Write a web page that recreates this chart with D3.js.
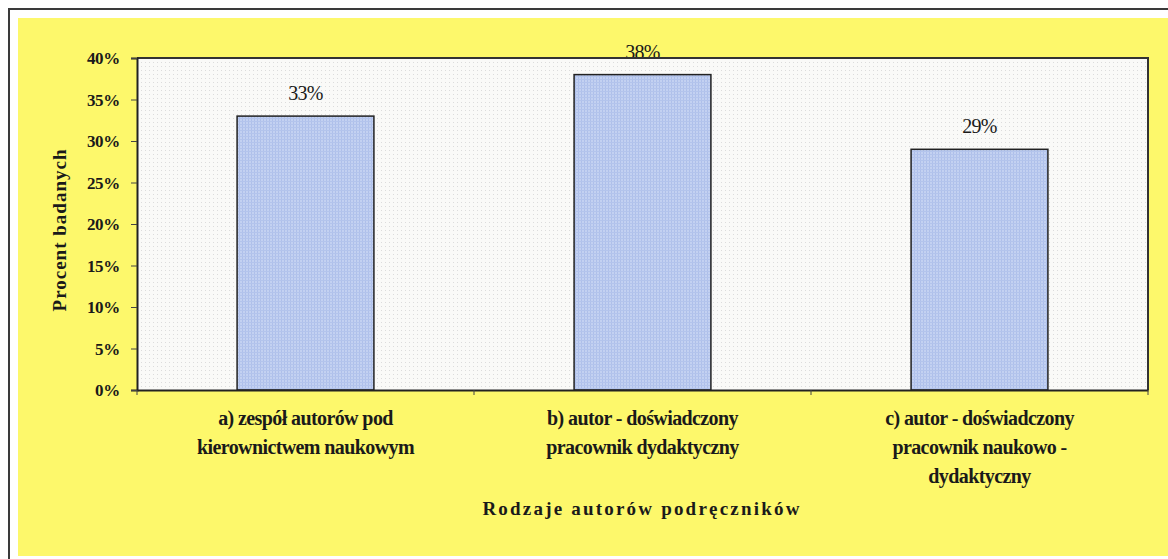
<!DOCTYPE html>
<html>
<head>
<meta charset="utf-8">
<script src="https://cdn.jsdelivr.net/npm/d3@7"></script>
<style>
  html, body { margin: 0; padding: 0; background: #fff; }
  svg { display: block; }
  text { font-family: "Liberation Serif", "Times New Roman", "DejaVu Serif", serif; fill: #1a1a1a; }
  .tick-label { font-weight: bold; font-size: 17px; letter-spacing: -0.3px; }
  .cat { font-weight: bold; font-size: 20px; letter-spacing: -0.6px; }
  .val { font-size: 20px; letter-spacing: -0.8px; }
  .title { font-weight: bold; font-size: 19px; }
</style>
</head>
<body>
<script>
var categories = [
    ['a) zespół autorów pod', 'kierownictwem naukowym'],
    ['b) autor - doświadczony', 'pracownik dydaktyczny'],
    ['c) autor - doświadczony', 'pracownik naukowo -', 'dydaktyczny']
];
var values = [33, 38, 29];
var yTicks = [0, 5, 10, 15, 20, 25, 30, 35, 40];
var yTitle = 'Procent badanych';
var xTitle = 'Rodzaje autorów podręczników';

var width = 1168,
    height = 559;

var margin = { left: 137, right: 20, top: 58, bottom: 169 };
var plotW = width - margin.left - margin.right,
    plotH = height - margin.top - margin.bottom;

var svg = d3.select('body').append('svg')
    .attr('width', width)
    .attr('height', height);

// dotted textures for plot area and bars
var defs = svg.append('defs');
var bgPat = defs.append('pattern')
    .attr('id', 'bgdots')
    .attr('width', 4).attr('height', 4)
    .attr('patternUnits', 'userSpaceOnUse');
bgPat.append('rect').attr('width', 4).attr('height', 4).attr('fill', '#fafaf8');
bgPat.append('rect').attr('width', 1).attr('height', 1).attr('fill', '#dcdcdc');

var barPat = defs.append('pattern')
    .attr('id', 'bardots')
    .attr('width', 3).attr('height', 3)
    .attr('patternUnits', 'userSpaceOnUse');
barPat.append('rect').attr('width', 3).attr('height', 3).attr('fill', '#c3d1f1');
barPat.append('rect').attr('width', 1).attr('height', 3).attr('fill', '#aebfea');
barPat.append('rect').attr('width', 3).attr('height', 1).attr('fill', '#b3c4ec');

// outer frame and yellow panel
svg.append('path')
    .attr('d', 'M9,' + height + 'V9H' + width)
    .attr('fill', 'none')
    .attr('stroke', '#3a3a3a')
    .attr('stroke-width', 2);

svg.append('rect')
    .attr('x', 18).attr('y', 18)
    .attr('width', width - 18).attr('height', 538)
    .attr('fill', '#fdf86b');

var g = svg.append('g')
    .attr('transform', 'translate(' + margin.left + ',' + margin.top + ')');

var x = d3.scaleBand()
    .domain(d3.range(categories.length))
    .range([0, plotW])
    .paddingInner(0.594)
    .paddingOuter(0.297);

var xCat = d3.scaleBand()
    .domain(d3.range(categories.length))
    .range([0, plotW]);

var y = d3.scaleLinear()
    .domain([0, 40])
    .range([plotH, 0]);

g.append('rect')
    .attr('width', plotW)
    .attr('height', plotH)
    .attr('fill', 'url(#bgdots)');

// bars
g.selectAll('.bar')
    .data(values)
    .enter().append('rect')
    .attr('class', 'bar')
    .attr('x', function (d, i) { return x(i); })
    .attr('y', function (d) { return y(d); })
    .attr('width', x.bandwidth())
    .attr('height', function (d) { return plotH - y(d); })
    .attr('fill', 'url(#bardots)')
    .attr('stroke', '#222')
    .attr('stroke-width', 1.5);

// value labels
g.selectAll('.val')
    .data(values)
    .enter().append('text')
    .attr('class', 'val')
    .attr('x', function (d, i) { return x(i) + x.bandwidth() / 2; })
    .attr('y', function (d) { return y(d) - 16; })
    .attr('text-anchor', 'middle')
    .text(function (d) { return d + '%'; });

// plot border (top/right)
g.append('path')
    .attr('d', 'M0,0H' + plotW + 'V' + plotH)
    .attr('fill', 'none')
    .attr('stroke', '#333')
    .attr('stroke-width', 2);

// y axis
var yAxis = g.append('g')
    .call(d3.axisLeft(y)
        .tickValues(yTicks)
        .tickSize(6)
        .tickPadding(11)
        .tickFormat(function (d) { return d + '%'; }));
yAxis.select('.domain').attr('stroke', '#222').attr('stroke-width', 2);
yAxis.selectAll('.tick line').attr('stroke', '#444');
yAxis.selectAll('.tick text')
    .attr('class', 'tick-label')
    .attr('fill', null)
    .attr('dy', '0.35em');
yAxis.attr('font-size', null).attr('font-family', null);

// x axis
var xAxis = g.append('g')
    .attr('transform', 'translate(0,' + plotH + ')')
    .call(d3.axisBottom(xCat).tickSize(0).tickFormat(''));
xAxis.select('.domain').attr('stroke', '#222').attr('stroke-width', 2);

// boundary ticks between categories
g.append('g')
    .attr('transform', 'translate(0,' + plotH + ')')
    .selectAll('line')
    .data(d3.range(categories.length + 1))
    .enter().append('line')
    .attr('x1', function (d) { return d === categories.length ? plotW : xCat(d); })
    .attr('x2', function (d) { return d === categories.length ? plotW : xCat(d); })
    .attr('y1', 0)
    .attr('y2', 5)
    .attr('stroke', '#444');

// category labels
var catG = g.selectAll('.cat')
    .data(categories)
    .enter().append('text')
    .attr('class', 'cat')
    .attr('text-anchor', 'middle')
    .attr('transform', function (d, i) {
        return 'translate(' + (xCat(i) + xCat.bandwidth() / 2) + ',' + (plotH + 35) + ')';
    });
catG.selectAll('tspan')
    .data(function (d) { return d; })
    .enter().append('tspan')
    .attr('x', 0)
    .attr('y', function (d, i) { return i * 29; })
    .text(function (d) { return d; });

// axis titles
svg.append('text')
    .attr('class', 'title')
    .attr('text-anchor', 'middle')
    .attr('font-size', 20)
    .attr('letter-spacing', '1px')
    .attr('transform', 'translate(66,' + 230 + ') rotate(-90)')
    .text(yTitle);

svg.append('text')
    .attr('class', 'title')
    .attr('text-anchor', 'middle')
    .attr('x', 642)
    .attr('y', 515)
    .attr('letter-spacing', '2.2px')
    .text(xTitle);
</script>
</body>
</html>
